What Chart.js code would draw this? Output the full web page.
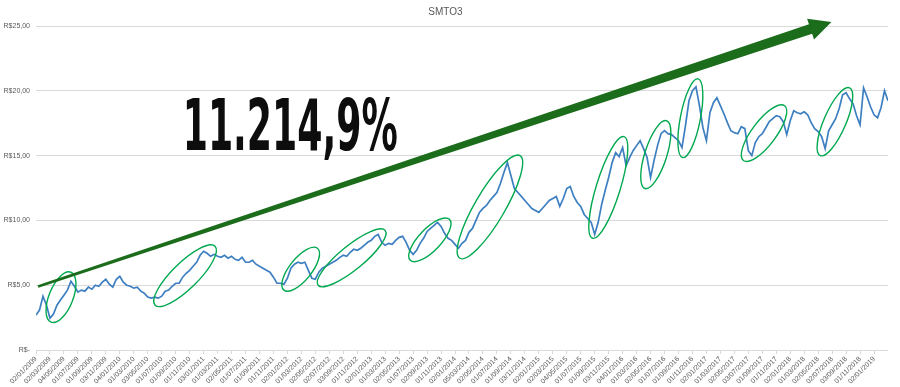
<!DOCTYPE html>
<html>
<head>
<meta charset="utf-8">
<script src="https://cdn.jsdelivr.net/npm/chart.js@4.4.1/dist/chart.umd.min.js"></script>
<style>
html, body { margin: 0; padding: 0; background: #fff; }
#wrap { width: 900px; height: 387px; position: relative; }
</style>
</head>
<body>
<div id="wrap"><canvas id="grafico"></canvas></div>
<script>
// Rótulos do eixo x (um a cada ~2 meses)
const rotulosDatas = [
    '02/01/2009', '02/03/2009', '04/05/2009', '01/07/2009', '01/09/2009', '03/11/2009',
    '04/01/2010', '01/03/2010', '03/05/2010', '01/07/2010', '01/09/2010', '01/11/2010',
    '03/01/2011', '01/03/2011', '02/05/2011', '01/07/2011', '01/09/2011', '01/11/2011',
    '02/01/2012', '01/03/2012', '02/05/2012', '02/07/2012', '03/09/2012', '01/11/2012',
    '02/01/2013', '01/03/2013', '02/05/2013', '01/07/2013', '02/09/2013', '01/11/2013',
    '02/01/2014', '05/03/2014', '02/05/2014', '01/07/2014', '01/09/2014', '03/11/2014',
    '02/01/2015', '02/03/2015', '04/05/2015', '01/07/2015', '01/09/2015', '03/11/2015',
    '04/01/2016', '01/03/2016', '02/05/2016', '01/07/2016', '01/09/2016', '01/11/2016',
    '02/01/2017', '01/03/2017', '02/05/2017', '03/07/2017', '01/09/2017', '01/11/2017',
    '02/01/2018', '01/03/2018', '02/05/2018', '02/07/2018', '03/09/2018', '01/11/2018',
    '02/01/2019'
];

// Cotação quinzenal (R$), ano a ano
const cot2009 = [2.69, 3.08, 4.15, 3.46, 2.46, 2.77, 3.46, 3.85, 4.23, 4.62, 5.31, 4.92, 4.46, 4.62, 4.54, 4.85, 4.69, 5.00, 4.92, 5.23, 5.46, 5.08, 4.85, 5.46];
const cot2010 = [5.69, 5.23, 5.00, 4.92, 4.77, 4.85, 4.54, 4.38, 4.08, 4.00, 4.08, 4.00, 4.15, 4.54, 4.62, 4.92, 5.15, 5.15, 5.62, 5.92, 6.15, 6.46, 6.77, 7.31];
const cot2011 = [7.62, 7.46, 7.23, 7.38, 7.23, 7.15, 7.31, 7.08, 7.23, 7.00, 6.92, 7.15, 6.77, 6.77, 6.92, 6.62, 6.46, 6.31, 6.15, 6.00, 5.62, 5.15, 5.15, 5.08];
const cot2012 = [5.54, 6.31, 6.62, 6.77, 6.69, 6.77, 6.15, 5.54, 5.46, 6.00, 6.31, 6.46, 6.62, 6.77, 6.92, 7.15, 7.31, 7.23, 7.54, 7.77, 7.69, 7.85, 8.08, 8.31];
const cot2013 = [8.46, 8.77, 8.92, 8.31, 8.08, 8.23, 8.15, 8.46, 8.69, 8.77, 8.31, 7.69, 7.38, 7.69, 8.23, 8.62, 9.15, 9.38, 9.62, 9.85, 9.54, 9.00, 8.62, 8.46];
const cot2014 = [8.15, 7.85, 8.23, 8.46, 9.08, 9.38, 10.00, 10.62, 10.92, 11.15, 11.54, 11.85, 12.15, 12.85, 13.69, 14.46, 13.46, 12.46, 12.15, 11.85, 11.54, 11.23, 10.92, 10.77];
const cot2015 = [10.62, 10.92, 11.23, 11.54, 11.69, 11.85, 11.08, 11.69, 12.46, 12.62, 11.85, 11.38, 11.08, 10.46, 10.15, 9.85, 8.92, 9.85, 11.23, 12.31, 13.31, 14.46, 15.23, 14.92];
const cot2016 = [15.62, 14.23, 14.85, 15.38, 15.77, 16.15, 15.54, 14.85, 13.31, 14.62, 15.77, 16.69, 16.92, 16.69, 16.62, 16.38, 16.15, 15.62, 17.31, 19.23, 20.00, 20.31, 18.85, 17.15];
const cot2017 = [16.15, 18.31, 19.08, 19.46, 18.85, 18.23, 17.54, 16.92, 16.77, 16.69, 17.23, 17.08, 15.38, 15.00, 16.00, 16.46, 16.69, 17.15, 17.62, 17.85, 18.08, 18.00, 17.62, 16.62];
const cot2018 = [17.69, 18.46, 18.31, 18.23, 18.38, 18.15, 17.54, 17.08, 16.85, 16.46, 15.54, 16.92, 17.38, 17.85, 18.62, 19.69, 19.85, 19.38, 19.00, 18.08, 17.38, 20.23, 19.54, 18.77];
const cot2019 = [18.15, 17.92, 18.69, 20.00, 19.23];

const cotacoes = [].concat(cot2009, cot2010, cot2011, cot2012, cot2013, cot2014,
    cot2015, cot2016, cot2017, cot2018, cot2019);

// Valores do eixo y
const ticksY = [0, 5, 10, 15, 20, 25];

// Elipses de destaque: [mês início, R$ início, mês fim, R$ fim, meia-largura]
const elipses = [
    [2.15, 2.15, 5.01, 6.00, 12],
    [17.05, 3.46, 25.64, 8.00, 13],
    [35.5, 4.62, 40.3, 7.85, 11],
    [40.4, 5.00, 50.0, 9.23, 12],
    [53.6, 6.92, 59.2, 10.08, 11],
    [60.7, 7.08, 69.3, 15.00, 15],
    [79.7, 8.62, 84.2, 16.46, 12],
    [87.2, 12.46, 90.3, 17.69, 11],
    [92.6, 14.85, 94.8, 20.92, 10],
    [101.3, 14.62, 107.2, 18.85, 12],
    [112.3, 15.00, 116.5, 20.23, 11]
];

// Seta de tendência (mês, R$)
const setaInicio = [0.3, 4.9];
const setaFim = [113.9, 25.3];

// Texto do destaque
const textoDestaque = '11.214,9%';
const posDestaque = [36.4, 15.4];

const formatarReal = v => v === 0 ? 'R$-' : 'R$' + v.toFixed(2).replace('.', ',');

const pluginAnotacoes = {
    id: 'anotacoes',
    afterDatasetsDraw(chart) {
        const ctx = chart.ctx;
        const sx = chart.scales.x;
        const sy = chart.scales.y;
        ctx.save();

        // elipses verdes
        ctx.strokeStyle = '#00a84f';
        ctx.lineWidth = 1.4;
        elipses.forEach(e => {
            const x1 = sx.getPixelForValue(e[0]), y1 = sy.getPixelForValue(e[1]);
            const x2 = sx.getPixelForValue(e[2]), y2 = sy.getPixelForValue(e[3]);
            const raio = Math.hypot(x2 - x1, y2 - y1) / 2;
            const ang = Math.atan2(y2 - y1, x2 - x1);
            ctx.beginPath();
            ctx.ellipse((x1 + x2) / 2, (y1 + y2) / 2, raio, e[4], ang, 0, Math.PI * 2);
            ctx.stroke();
        });

        // seta verde escura, afinando no início
        const p0x = sx.getPixelForValue(setaInicio[0]), p0y = sy.getPixelForValue(setaInicio[1]);
        const p1x = sx.getPixelForValue(setaFim[0]), p1y = sy.getPixelForValue(setaFim[1]);
        const comp = Math.hypot(p1x - p0x, p1y - p0y);
        const ux = (p1x - p0x) / comp, uy = (p1y - p0y) / comp;
        const nx = -uy, ny = ux;
        const cabeca = 22;
        const bx = p1x - ux * cabeca, by = p1y - uy * cabeca;
        ctx.fillStyle = '#1b6d1b';
        ctx.beginPath();
        ctx.moveTo(p0x + nx * 1.2, p0y + ny * 1.2);
        ctx.lineTo(bx + nx * 5, by + ny * 5);
        ctx.lineTo(bx + nx * 11, by + ny * 11);
        ctx.lineTo(p1x, p1y);
        ctx.lineTo(bx - nx * 11, by - ny * 11);
        ctx.lineTo(bx - nx * 5, by - ny * 5);
        ctx.lineTo(p0x - nx * 1.2, p0y - ny * 1.2);
        ctx.closePath();
        ctx.fill();

        // texto grande
        const tx = sx.getPixelForValue(posDestaque[0]);
        const ty = sy.getPixelForValue(posDestaque[1]);
        ctx.font = 'bold 72px "Liberation Sans Narrow", "DejaVu Sans Condensed", "Liberation Sans", sans-serif';
        const larg = ctx.measureText(textoDestaque).width;
        const escala = 215 / larg;
        ctx.translate(tx, ty);
        ctx.scale(escala, 1);
        ctx.fillStyle = '#0d0d0d';
        ctx.textAlign = 'center';
        ctx.textBaseline = 'alphabetic';
        ctx.fillText(textoDestaque, 0, 0);
        ctx.restore();
    }
};

const ctx = document.getElementById('grafico').getContext('2d');
new Chart(ctx, {
    type: 'line',
    data: {
        datasets: [{
            data: cotacoes.map((v, i) => ({ x: i * 0.5, y: v })),
            borderColor: '#3d7fc0',
            borderWidth: 1.7,
            pointRadius: 0,
            tension: 0,
            fill: false
        }]
    },
    options: {
        responsive: true,
        maintainAspectRatio: false,
        animation: false,
        layout: { padding: { left: 3, right: 12, top: 0, bottom: 0 } },
        plugins: {
            legend: { display: false },
            tooltip: { enabled: false },
            title: {
                display: true,
                text: 'SMTO3',
                color: '#595959',
                font: { size: 10, family: 'Liberation Sans', weight: 'normal' },
                padding: { top: 6, bottom: 8 }
            }
        },
        scales: {
            x: {
                type: 'linear',
                min: 0,
                max: (cotacoes.length - 1) * 0.5,
                afterBuildTicks: scale => {
                    scale.ticks = rotulosDatas.map((_, i) => ({ value: i * 2 }));
                },
                afterFit: scale => { scale.height = 37; },
                grid: { drawOnChartArea: false, color: '#d9d9d9', tickLength: 4 },
                border: { display: false },
                ticks: {
                    autoSkip: false,
                    maxRotation: 45,
                    minRotation: 45,
                    padding: 1,
                    color: '#595959',
                    font: { size: 7, family: 'Liberation Sans' },
                    callback: v => rotulosDatas[Math.round(v / 2)] || ''
                }
            },
            y: {
                min: 0,
                max: 25,
                afterBuildTicks: scale => {
                    scale.ticks = ticksY.map(v => ({ value: v }));
                },
                afterFit: scale => { scale.width = 33; },
                grid: { color: '#d9d9d9', drawTicks: false },
                border: { display: false },
                ticks: {
                    padding: 6,
                    color: '#595959',
                    font: { size: 7, family: 'Liberation Sans' },
                    callback: v => formatarReal(v)
                }
            }
        }
    },
    plugins: [pluginAnotacoes]
});
</script>
</body>
</html>
